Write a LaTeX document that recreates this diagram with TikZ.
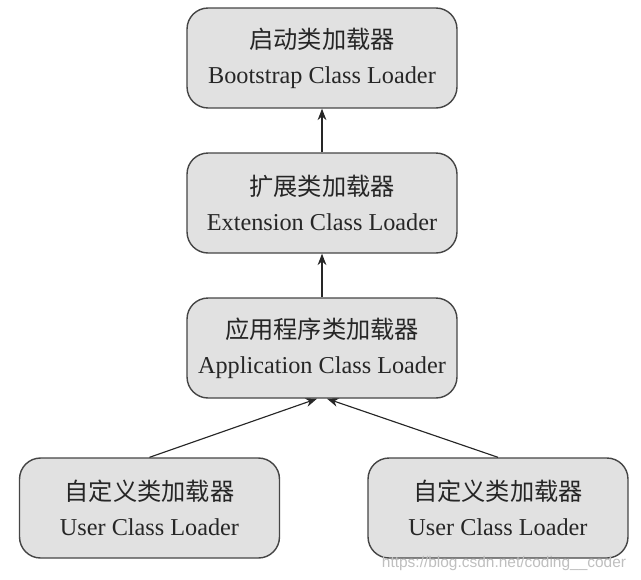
\documentclass[tikz,border=0pt]{standalone}
\usepackage{fontspec}
\setmainfont{Liberation Serif}
\newfontfamily\cjk{Noto Sans CJK SC}
\newfontfamily\markfont{Liberation Sans}
\usetikzlibrary{arrows.meta}
\definecolor{boxfill}{HTML}{E1E1E1}
\definecolor{boxline}{HTML}{454545}
\tikzset{
  loader/.style={draw=boxline,fill=boxfill,line width=0.8pt,rounded corners=0.42cm,
    minimum width=5.4cm,minimum height=2cm,align=center,text=black!85,
    font=\fontsize{13.8}{17}\selectfont},
  up/.style={-{Stealth[length=6.5pt,width=5pt]},line width=0.65pt,draw=black!85}
}
\begin{document}
\begin{tikzpicture}[x=0.02cm,y=-0.02cm]
  \useasboundingbox (0,0) rectangle (641,579);
  \foreach \n/\zh/\en/\y in {
    boot/启动类加载器/Bootstrap/58,
    ext/扩展类加载器/Extension/203,
    app/应用程序类加载器/Application/348%
  }
  {\node[loader] (\n) at (322,\y) {{\cjk\zh}\\[3pt]\en\ Class Loader};}
  \node[loader,minimum width=5.2cm] (userl) at (149.5,508) {{\cjk 自定义类加载器}\\[3pt]User Class Loader};
  \node[loader,minimum width=5.2cm] (userr) at (498,508) {{\cjk 自定义类加载器}\\[3pt]User Class Loader};
  \draw[up] (ext) -- (boot);
  \draw[up] (app) -- (ext);
  \draw[up] (userl.north) -- ([xshift=-0.1cm]app.south);
  \draw[up] (userr.north) -- ([xshift=0.1cm]app.south);
  \node[text=black!25,font=\markfont\fontsize{8.8}{10}\selectfont] (mark) at (504,563)
    {https://blog.csdn.net/coding\_\_coder};
\end{tikzpicture}
\end{document}
